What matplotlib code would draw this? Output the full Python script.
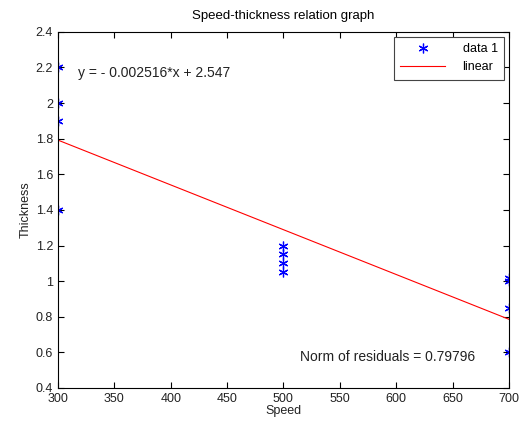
import numpy as np
import matplotlib.pyplot as plt

plt.rcParams['font.family'] = ['Liberation Sans', 'DejaVu Sans']

# data
speed = [300, 300, 300, 300, 500, 500, 500, 500, 700, 700, 700, 700]
thickness = [2.2, 2.0, 1.9, 1.4, 1.2, 1.15, 1.1, 1.05, 1.02, 1.0, 0.85, 0.6]
slope = -0.002516
intercept = 2.547
fit_x = [300, 700]
x_ticks = [300, 350, 400, 450, 500, 550, 600, 650, 700]
y_ticks = [0.4, 0.6, 0.8, 1, 1.2, 1.4, 1.6, 1.8, 2, 2.2, 2.4]

fig = plt.figure(figsize=(5.22, 4.28), dpi=100)
ax = fig.add_axes([0.111, 0.0935, 0.864, 0.832])

# matlab-like asterisk marker
ax.plot(speed, thickness, linestyle='none', marker=(6, 2, 0), color='blue',
        markersize=7, markeredgewidth=0.9, label='data 1')
fx = np.array(fit_x)
ax.plot(fx, slope * fx + intercept, '-', color='red', linewidth=0.8, label='linear')

ax.set_xlim(300, 700)
ax.set_ylim(0.4, 2.4)
ax.set_xticks(x_ticks)
ax.set_yticks(y_ticks)
ax.set_yticklabels([f'{v:g}' for v in y_ticks])
ax.tick_params(direction='in', top=True, right=True, labelsize=9, length=4,
               labelcolor='#222222')
for s in ax.spines.values():
    s.set_linewidth(0.8)

ax.set_xlabel('Speed', fontsize=9, labelpad=0, color='#222222')
ax.set_ylabel('Thickness', fontsize=9, labelpad=3, color='#222222')
ax.set_title('Speed-thickness relation graph', fontsize=9.5, pad=9)

ax.text(318, 2.17, 'y = - 0.002516*x + 2.547', fontsize=10, va='center', color='#222222')
ax.text(515, 0.574, 'Norm of residuals = 0.79796', fontsize=10, va='center', color='#222222')

leg = ax.legend(loc='upper right', fontsize=9, fancybox=False, edgecolor='#444444',
                framealpha=1, borderaxespad=0.4, handlelength=3.6, handletextpad=1.4,
                borderpad=0.5)
leg.get_frame().set_linewidth(0.8)

fig.savefig('out.png', dpi=100)
